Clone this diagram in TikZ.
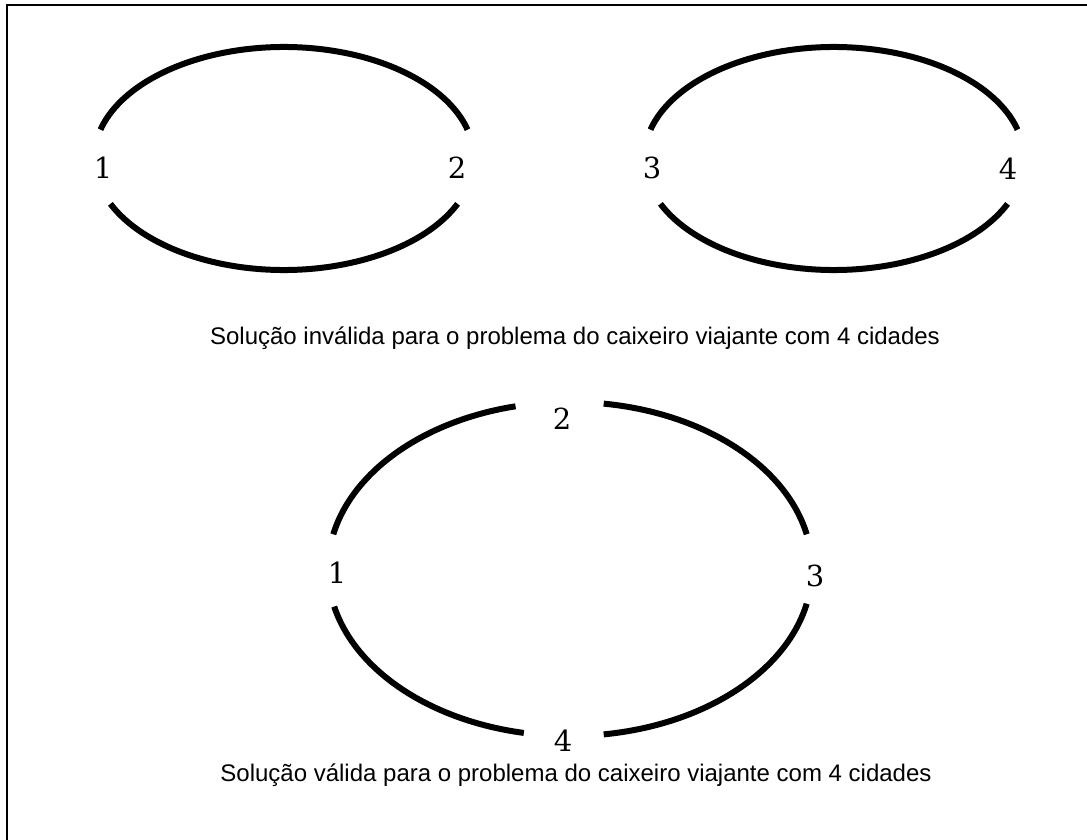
\documentclass[tikz,border=0pt]{standalone}
\usepackage{fontspec}
\setmainfont{DejaVu Serif}
\newfontfamily\capfont{Liberation Sans}
\usetikzlibrary{calc}
\begin{document}
\begin{tikzpicture}[x=1pt,y=-1pt,
  edge/.style={line width=6pt},
  frameline/.style={line width=2pt},
  city/.style={font=\fontsize{29}{29}\selectfont, inner sep=0pt},
  caption/.style={font=\capfont\fontsize{24}{24}\selectfont, inner sep=0pt}]
\useasboundingbox (0,0) rectangle (1087,840);
\fill[white] (0,0) rectangle (1087,840);
% frame (top and left only)
\coordinate (bTR) at (1087,5.5);
\coordinate (bTL) at (6.5,5.5);
\coordinate (bBL) at (6.5,840);
\draw[frameline] (bTR) -- (bTL) -- (bBL);

% ---- invalid solution: two sub-tours ----
\coordinate (c1) at (284,158.5);
\coordinate (c2) at (834,158.5);
\node[city] (a1) at (103,168) {1};
\node[city] (a2) at (457,168) {2};
\node[city] (a3) at (652,168) {3};
\node[city] (a4) at (1008,169) {4};

\coordinate (e12t) at ($(c1)+(195:190 and 111.5)$);
\coordinate (e12b) at ($(c1)+(24:190 and 111.5)$);
\draw[edge] (e12t) arc[start angle=195,end angle=345,x radius=190,y radius=111.5];
\draw[edge] (e12b) arc[start angle=24,end angle=156,x radius=190,y radius=111.5];

\coordinate (e34t) at ($(c2)+(195:190 and 111.5)$);
\coordinate (e34b) at ($(c2)+(24:190 and 111.5)$);
\draw[edge] (e34t) arc[start angle=195,end angle=345,x radius=190,y radius=111.5];
\draw[edge] (e34b) arc[start angle=24,end angle=156,x radius=190,y radius=111.5];

\node[caption] (cap1) at (575,338) {Solução inválida para o problema do caixeiro viajante com 4 cidades};

% ---- valid solution: one tour ----
\coordinate (c3) at (570,569);
\node[city] (b2) at (562,419) {2};
\node[city] (b1) at (337,573) {1};
\node[city] (b3) at (815,576) {3};
\node[city] (b4) at (563,741) {4};

\coordinate (f12) at ($(c3)+(192:242 and 167)$);
\coordinate (f23) at ($(c3)+(278:242 and 167)$);
\coordinate (f34) at ($(c3)+(12:242 and 167)$);
\coordinate (f41) at ($(c3)+(101:242 and 167)$);
\draw[edge] (f12) arc[start angle=192,end angle=257,x radius=242,y radius=167];
\draw[edge] (f23) arc[start angle=278,end angle=348,x radius=242,y radius=167];
\draw[edge] (f34) arc[start angle=12,end angle=82,x radius=242,y radius=167];
\draw[edge] (f41) arc[start angle=101,end angle=167,x radius=242,y radius=167];

\node[caption] (cap2) at (576,775) {Solução válida para o problema do caixeiro viajante com 4 cidades};
\end{tikzpicture}
\end{document}
